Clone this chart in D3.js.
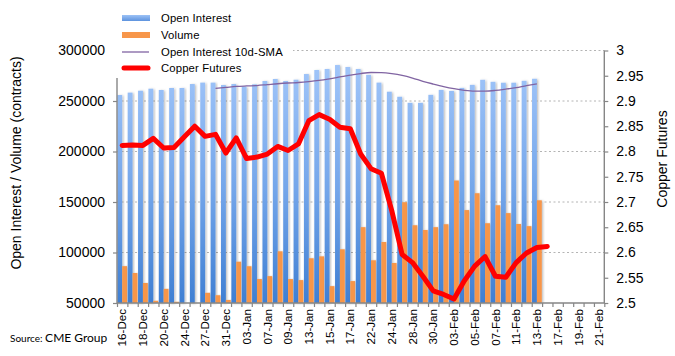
<!DOCTYPE html>
<html><head><meta charset="utf-8">
<script src="https://cdn.jsdelivr.net/npm/d3@7"></script>
<style>
html,body{margin:0;padding:0;background:#fff;}
svg{display:block;font-family:"Liberation Sans",Arial,Helvetica,sans-serif;}
</style></head>
<body><svg id="c" width="675" height="356"></svg>
<script>
const categories = ["16-Dec","17-Dec","18-Dec","19-Dec","20-Dec","23-Dec","24-Dec","26-Dec","27-Dec","30-Dec","31-Dec",
"02-Jan","03-Jan","06-Jan","07-Jan","08-Jan","09-Jan","10-Jan","13-Jan","14-Jan","15-Jan","16-Jan","17-Jan","21-Jan","22-Jan","23-Jan","24-Jan","27-Jan","28-Jan","29-Jan","30-Jan","31-Jan",
"03-Feb","04-Feb","05-Feb","06-Feb","07-Feb","10-Feb","11-Feb","12-Feb","13-Feb","14-Feb","17-Feb","18-Feb","19-Feb","20-Feb","21-Feb"];
const openInterest = [255900,258300,260200,262200,260900,262900,262900,266800,268200,268200,265800,266800,264200,266500,269800,271800,269800,271100,276700,280700,281700,285600,283700,281700,275900,268200,259200,254200,248200,248200,256100,261000,260000,263000,266000,271000,269000,268100,268100,270000,272000];
const volume = [86500,79700,69800,52200,64000,51200,45000,42000,60100,57700,53000,90900,86400,73700,76600,101200,73700,72700,94300,96200,66700,103200,71700,125100,92300,110400,89600,149800,127000,122300,125100,128000,171300,142000,158700,129000,146800,139000,128200,126100,151700];
const smaStart = 9;
const oiSMA = [262600,263500,264400,264900,265300,266200,267100,267800,268300,269200,270400,272000,273800,275600,277200,278200,278000,277000,275300,272700,269500,266800,264300,262200,260600,259800,259800,260500,261800,263300,265300,266900];
const copper = [2.812,2.813,2.812,2.826,2.807,2.808,2.829,2.850,2.830,2.834,2.797,2.827,2.786,2.789,2.795,2.810,2.802,2.815,2.861,2.873,2.864,2.848,2.845,2.795,2.766,2.757,2.683,2.596,2.580,2.553,2.524,2.517,2.508,2.544,2.573,2.592,2.553,2.551,2.580,2.599,2.610,2.612];
const leftTicks = [50000,100000,150000,200000,250000,300000];
const rightTicks = [2.5,2.55,2.6,2.65,2.7,2.75,2.8,2.85,2.9,2.95,3];
const seriesNames = ["Open Interest","Volume","Open Interest 10d-SMA","Copper Futures"];

const svg = d3.select("#c");
const L = 117, R = 604.3, T = 50.5, B = 303;

const x = d3.scaleBand().domain(categories).range([L, R]).paddingInner(0.06).paddingOuter(0.03);
const xs = d3.scaleBand().domain(["oi","vol"]).range([0, x.bandwidth()]).padding(0);
const xIdx = d3.scaleLinear().domain([0, categories.length]).range([L, R]);
const yL = d3.scaleLinear().domain([50000, 300000]).range([B, T]).clamp(true);
const yR = d3.scaleLinear().domain([2.5, 3]).range([B, T]);

const defs = svg.append("defs");
const g1 = defs.append("linearGradient").attr("id","blueGrad").attr("gradientUnits","userSpaceOnUse")
  .attr("x1",0).attr("y1",T).attr("x2",0).attr("y2",B);
g1.append("stop").attr("offset","0%").attr("stop-color","#a6c9fb");
g1.append("stop").attr("offset","55%").attr("stop-color","#74a6ea");
g1.append("stop").attr("offset","100%").attr("stop-color","#3f7fd3");
const g2 = defs.append("linearGradient").attr("id","blueLeg").attr("x1",0).attr("y1",0).attr("x2",0).attr("y2",1);
g2.append("stop").attr("offset","0%").attr("stop-color","#9cc2f6");
g2.append("stop").attr("offset","100%").attr("stop-color","#5d93de");
const f = defs.append("filter").attr("id","shadow").attr("x","-50%").attr("y","-5%").attr("width","200%").attr("height","110%");
f.append("feDropShadow").attr("dx",1.2).attr("dy",0.6).attr("stdDeviation",0.9)
  .attr("flood-color","#000").attr("flood-opacity",0.28);

// gridlines
svg.append("g").selectAll("line").data(leftTicks.slice(1)).join("line")
  .attr("x1", L).attr("x2", R).attr("y1", d => yL(d)).attr("y2", d => yL(d))
  .attr("stroke","#b4b4b4").attr("stroke-width",1).attr("stroke-dasharray","2,2.5");

// bars
const bars = svg.append("g");
openInterest.forEach((v,i) => {
  const c = categories[i];
  bars.append("rect").attr("x", x(c) + xs("oi")).attr("width", xs.bandwidth())
    .attr("y", yL(v)).attr("height", B - yL(v)).attr("fill","url(#blueGrad)").attr("filter","url(#shadow)");
  const vv = volume[i];
  bars.append("rect").attr("x", x(c) + xs("vol")).attr("width", xs.bandwidth())
    .attr("y", yL(vv)).attr("height", Math.max(0, B - yL(vv))).attr("fill","#f7964a").attr("filter","url(#shadow)");
});

// SMA line
const smaData = oiSMA.map((v,i) => [categories[smaStart + i], v]);
svg.append("path").datum(smaData)
  .attr("d", d3.line().x(d => x(d[0]) + x.bandwidth()/2).y(d => yL(d[1])).curve(d3.curveMonotoneX))
  .attr("fill","none").attr("stroke","#8064a2").attr("stroke-width",1.3);

// copper line
svg.append("path").datum(copper.map((v,i) => [categories[i], v]))
  .attr("d", d3.line().x(d => x(d[0]) + x.bandwidth()/2).y(d => yR(d[1])))
  .attr("fill","none").attr("stroke","#ff0000").attr("stroke-width",5)
  .attr("stroke-linejoin","round").attr("stroke-linecap","round");

// axes
const axisColor = "#868686";
const ax = svg.append("g").attr("transform",`translate(${L},0)`)
  .call(d3.axisLeft(yL).tickValues(leftTicks).tickSize(4).tickPadding(8).tickFormat(d3.format("d")));
ax.select(".domain").attr("d", `M-0,${T}V${B}`);
const ar = svg.append("g").attr("transform",`translate(${R},0)`)
  .call(d3.axisRight(yR).tickValues(rightTicks).tickSize(4).tickPadding(8).tickFormat(d => String(+d.toFixed(2))));
ar.select(".domain").attr("d", `M0,${T}V${B}`);
const ab = svg.append("g").attr("transform",`translate(0,${B})`)
  .call(d3.axisBottom(xIdx).tickValues(d3.range(categories.length + 1)).tickSize(4).tickFormat(""));
ab.select(".domain").attr("d", `M${L},0H${R}`);
[ax, ar, ab].forEach(a => {
  a.select(".domain").attr("stroke", axisColor).attr("stroke-width",1.4);
  a.selectAll(".tick line").attr("stroke", axisColor).attr("stroke-width",1.2);
  a.selectAll("text").attr("fill","#000").attr("font-size",14).attr("font-family",'"Liberation Sans",Arial,sans-serif');
});

// x labels
svg.append("g").selectAll("text").data(categories.filter((c,i) => i % 2 === 0)).join("text")
  .attr("transform", d => `translate(${x(d) + x.bandwidth()/2},309) rotate(-90)`)
  .attr("text-anchor","end").attr("dy","0.36em").attr("font-size",11.6).text(d => d);

// axis titles
svg.append("text").attr("transform","translate(16,163) rotate(-90)").attr("text-anchor","middle")
  .attr("dy","0.36em").attr("font-size",14).text("Open Interest / Volume (contracts)");
svg.append("text").attr("transform","translate(662,159) rotate(-90)").attr("text-anchor","middle")
  .attr("dy","0.36em").attr("font-size",14).text("Copper Futures");

// legend
svg.append("rect").attr("x",110).attr("y",0).attr("width",183).attr("height",78).attr("fill","#fff");
const lg = svg.append("g");
const rowsY = [18, 35, 52, 68];
lg.append("rect").attr("x",122).attr("y",rowsY[0]-3).attr("width",28).attr("height",6).attr("fill","url(#blueLeg)");
lg.append("rect").attr("x",122).attr("y",rowsY[1]-3).attr("width",28).attr("height",6).attr("fill","#f7964a");
lg.append("line").attr("x1",122).attr("x2",149).attr("y1",rowsY[2]).attr("y2",rowsY[2]).attr("stroke","#8064a2").attr("stroke-width",1.3);
lg.append("line").attr("x1",124).attr("x2",148).attr("y1",rowsY[3]).attr("y2",rowsY[3]).attr("stroke","#ff0000").attr("stroke-width",5).attr("stroke-linecap","round");
lg.selectAll("text").data(seriesNames).join("text")
  .attr("x",161).attr("y",(d,i) => rowsY[i]).attr("dy","0.36em").attr("font-size",11.3).attr("letter-spacing",0.15).text(d => d);

// source
const src = svg.append("text").attr("x",10).attr("y",342).attr("font-family","Lato, 'Open Sans', sans-serif");
src.append("tspan").attr("font-size",10).text("Source: ");
src.append("tspan").attr("font-size",12).text("CME Group");
</script></body></html>
